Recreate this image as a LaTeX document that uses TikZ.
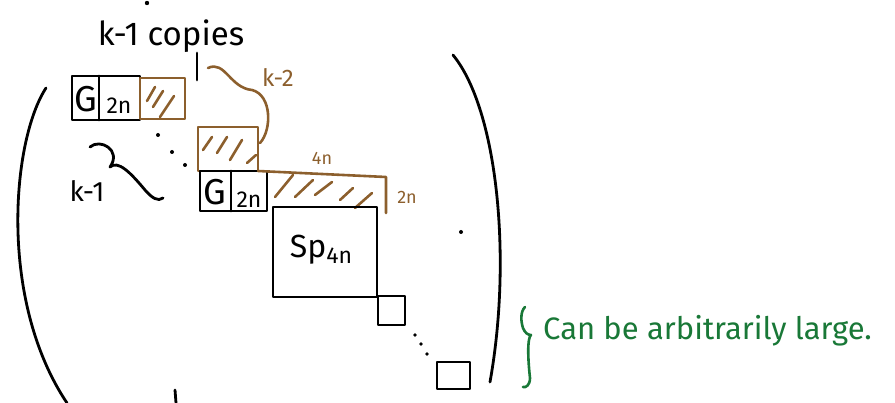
\documentclass[tikz,border=0pt]{standalone}
\usepackage{fontspec}
\setmainfont{Fira Sans}
\definecolor{brn}{RGB}{140,95,45}
\definecolor{grn}{RGB}{25,120,55}
\begin{document}
\begin{tikzpicture}[x=1pt,y=-1pt,line cap=round,line join=round,
  ink/.style={line width=2.8pt,black},
  bink/.style={line width=2.6pt,brn},
  gink/.style={line width=2.6pt,grn},
  lbl/.style={inner sep=0pt},
  big/.style={lbl,font=\fontsize{36}{38}\selectfont},
  small/.style={lbl,font=\fontsize{18}{19}\selectfont},
  sub/.style={lbl,font=\fontsize{23}{24}\selectfont},
  dotmark/.style={fill=black}]
\useasboundingbox (0,0) rectangle (895,403);

% top labels
\node[lbl,font=\fontsize{33}{35}\selectfont] (copies) at (171,36) {k-1 copies};
\fill[dotmark] (147,3) circle (2.2);
\draw[ink] (197,53) -- (197,80);

% parentheses
\draw[ink] (46,88) .. controls (12,140) and (-2,300) .. (67,403);
\draw[ink] (453,55) .. controls (498,110) and (512,260) .. (490,382);

% first G block
\draw[ink] (72,76) rectangle (140,120);
\draw[ink] (99,76) -- (99,120);
\node[big] (g1) at (86,99) {G};
\node[sub] (g1s) at (119,106) {2n};
\draw[bink] (140,78) rectangle (185,119);
\draw[bink] (147,101) -- (155,87) (153,107) -- (163,91) (160,117) -- (174,96);

% diagonal dots
\fill[dotmark] (158,135) circle (2) (172,152) circle (2) (185,165) circle (2);

% second G block
\draw[bink] (198,127) rectangle (258,171);
\draw[bink] (203,150) -- (212,137) (217,153) -- (227,137) (230,160) -- (242,140) (247,163) -- (256,155);
\draw[ink] (200,171) rectangle (267,211);
\draw[ink] (231,171) -- (231,211);
\node[big] (g2) at (215,192) {G};
\node[sub] (g2s) at (249,200) {2n};

% long hatched block
\draw[bink] (258,171) -- (386,177) -- (386,213);
\draw[bink] (275,197) -- (293,175) (295,197) -- (313,180) (315,195) -- (332,182)
  (340,200) -- (353,188) (355,208) -- (372,193);
\node[small,text=brn] (fourn) at (322,158) {4n};
\node[small,text=brn] (twon) at (407,197) {2n};

% Sp block
\draw[ink] (273,207) rectangle (377,297);
\node[big,font=\fontsize{32}{34}\selectfont] (sp) at (321,250) {Sp\raisebox{-0.35ex}{\fontsize{23}{23}\selectfont 4n}};

% small blocks
\draw[ink] (378,296) rectangle (405,325);
\fill[dotmark] (415,335) circle (1.8) (421,344) circle (1.8) (427,354) circle (1.8);
\draw[ink] (437,362) rectangle (470,389);
\fill[dotmark] (461,232) circle (2);
\draw[ink] (175,390) -- (176,403);

% k-2 annotation
\coordinate (k2a) at (208,68);
\coordinate (k2m) at (252,90);
\coordinate (k2b) at (260,143);
\draw[bink] (k2a) .. controls (225,60) and (230,88) .. (k2m) .. controls (272,95) and (272,130) .. (k2b);
\node[lbl,text=brn,font=\fontsize{24}{26}\selectfont] (k2) at (278,78) {k-2};

% k-1 annotation
\coordinate (k1a) at (90,147);
\coordinate (k1m) at (110,167);
\coordinate (k1b) at (163,198);
\draw[ink] (k1a) .. controls (100,138) and (122,150) .. (k1m) .. controls (118,160) and (130,172) .. (145,190) .. controls (152,198) and (158,202) .. (k1b);
\node[lbl,font=\fontsize{28}{30}\selectfont] (k1) at (87,191) {k-1};

% green brace and text
\draw[gink] (525,307) .. controls (520,312) and (521,322) .. (523,328)
  .. controls (525,333) and (528,335) .. (531,335)
  .. controls (527,338) and (528,360) .. (530,378)
  .. controls (530,385) and (526,388) .. (523,387);
\node[lbl,anchor=west,text=grn,font=\fontsize{31}{33}\selectfont] (note) at (543,331) {Can be arbitrarily large.};
\end{tikzpicture}
\end{document}
